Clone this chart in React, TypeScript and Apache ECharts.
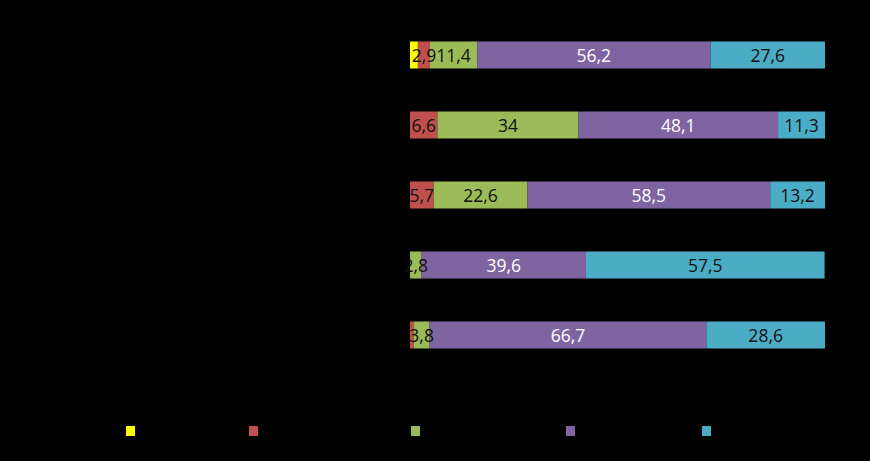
import React, { useEffect, useRef } from "react";
import * as echarts from "echarts";

const categories = ["Grupo 1", "Grupo 2", "Grupo 3", "Grupo 4", "Grupo 5"];
const seriesNames = ["Serie 1", "Serie 2", "Serie 3", "Serie 4", "Serie 5"];
const yellowValues = [1.9, 0, 0, 0, 0];
const redValues = [2.9, 6.6, 5.7, 0, 0.9];
const greenValues = [11.4, 34, 22.6, 2.8, 3.8];
const purpleValues = [56.2, 48.1, 58.5, 39.6, 66.7];
const blueValues = [27.6, 11.3, 13.2, 57.5, 28.6];
const colors = ["#FFFF00", "#C0504D", "#9BBB59", "#8064A2", "#4BACC6"];
const legendLefts = [126, 249, 411, 566, 702];

export default function App() {
  const ref = useRef<HTMLDivElement>(null);
  useEffect(() => {
    document.body.style.margin = "0";
    document.body.style.background = "#000";
    const chart = echarts.init(ref.current!, null, { renderer: "svg" });
    const all = [yellowValues, redValues, greenValues, purpleValues, blueValues];
    const fmt = (p: any) => (p.value >= 1 ? String(p.value).replace(".", ",") : "");
    const series = all.map((vals, i) => ({
      name: seriesNames[i],
      type: "bar",
      stack: "total",
      barWidth: 27,
      data: vals,
      itemStyle: { color: colors[i] },
      label: {
        show: i !== 0,
        position: "inside",
        formatter: fmt,
        color: i === 3 ? "#ffffff" : "#111111",
        fontFamily: "Open Sans",
        fontSize: 17.5,
      },
    }));
    chart.setOption({
      animation: false,
      backgroundColor: "#000000",
      grid: { left: 410, right: 45, top: 20, height: 350 },
      xAxis: { type: "value", min: 0, max: 100, show: false },
      yAxis: {
        type: "category",
        data: categories,
        inverse: true,
        axisLine: { show: false },
        axisTick: { show: false },
        axisLabel: { show: true, color: "#000000", fontFamily: "Open Sans", fontSize: 14 },
      },
      legend: seriesNames.map((n, i) => ({
        data: [n],
        left: legendLefts[i],
        top: 424,
        padding: 0,
        itemWidth: 9,
        itemHeight: 10,
        icon: "rect",
        itemGap: 4,
        textStyle: { color: "#000000", fontFamily: "Open Sans", fontSize: 14 },
      })),
      series,
    });
    return () => chart.dispose();
  }, []);
  return <div ref={ref} style={{ width: 870, height: 461 }} />;
}
